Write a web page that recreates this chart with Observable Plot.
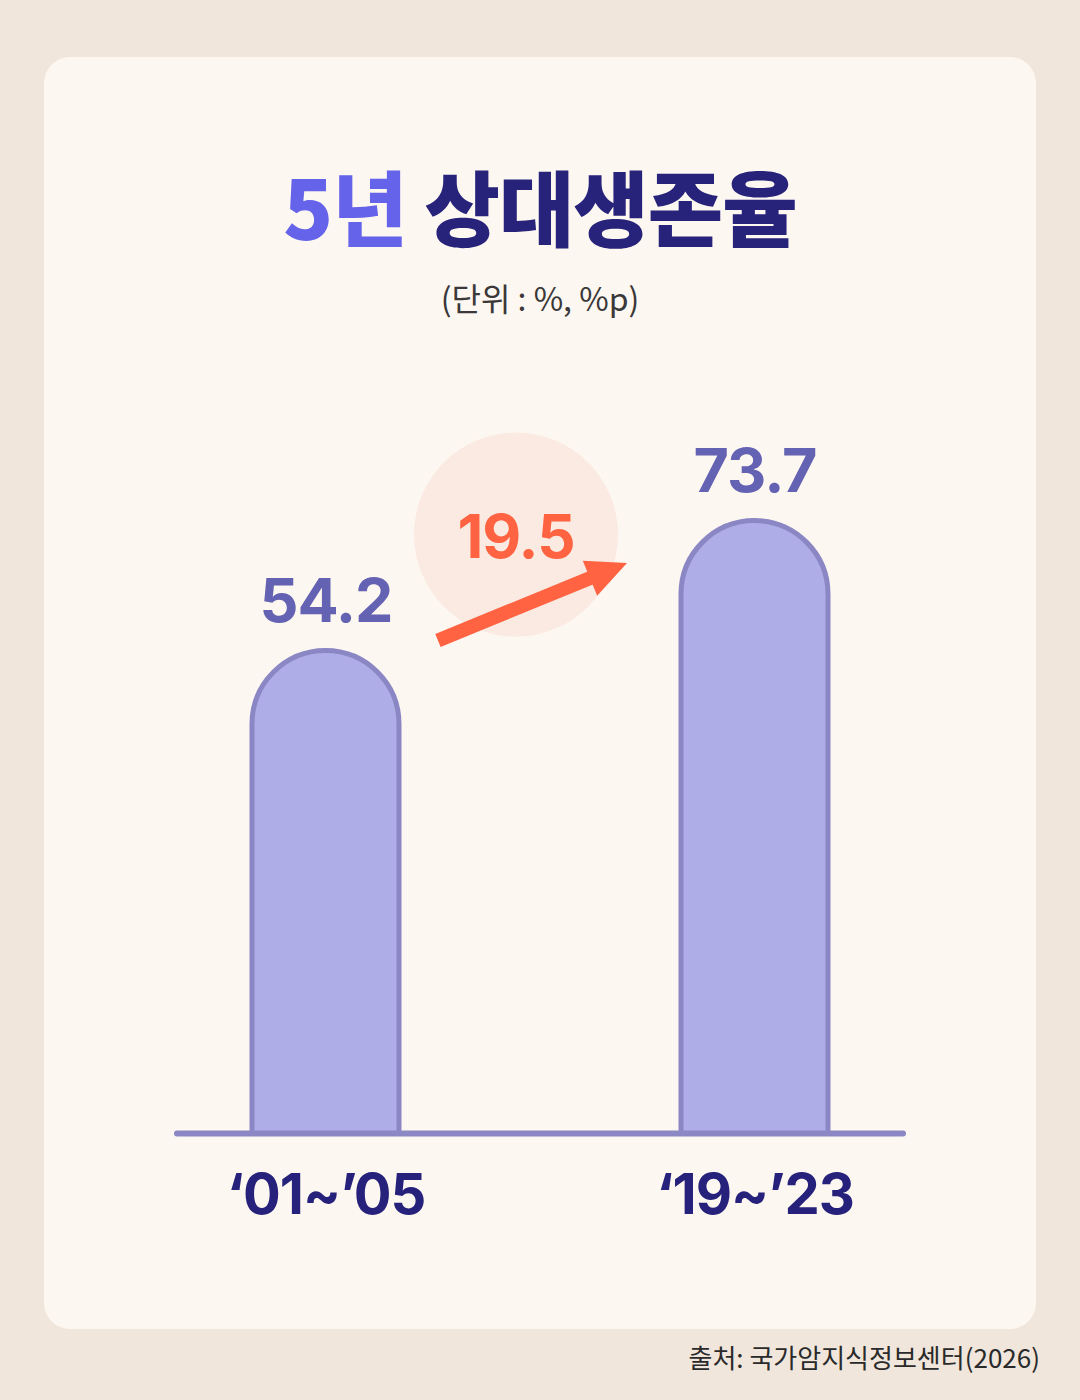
<!DOCTYPE html>
<html><head><meta charset="utf-8">
<script src="https://cdn.jsdelivr.net/npm/d3@7"></script>
<script src="https://cdn.jsdelivr.net/npm/@observablehq/plot@0.6"></script>
<style>
html,body{margin:0;padding:0;background:#F0E6DC;}
#page{position:relative;width:1080px;height:1400px;overflow:hidden;background:#F0E6DC;font-family:"Noto Sans CJK KR",sans-serif;}
#card{position:absolute;left:44px;top:57px;width:992px;height:1272px;border-radius:26px;background:#FDF7F1;}
#title{position:absolute;left:0;width:1080px;top:164px;text-align:center;font-size:82px;font-weight:900;line-height:1;letter-spacing:-1px;color:#27227A;white-space:nowrap;}
#title .hl{color:#6563E9;}
#subtitle{position:absolute;left:0;width:1080px;top:281px;text-align:center;font-size:32px;line-height:1;color:#3A3838;}
#chart{position:absolute;left:0;top:340px;}
#source{position:absolute;right:40px;top:1344px;font-size:26px;line-height:1;color:#2A2A2A;white-space:nowrap;}
#chart text{letter-spacing:-1px;}
</style></head>
<body><div id="page"><div id="card"></div>
<div id="title"><span class="hl">5년</span> 상대생존율</div>
<div id="subtitle">(단위 : %, %p)</div>
<div id="chart"></div>
<div id="source">출처: 국가암지식정보센터(2026)</div>
</div>
<script>
// data
const periods = ["‘01~’05", "‘19~’23"];
const survival = [54.2, 73.7];
const change = 19.5;

const data = periods.map((p, i) => ({period: p, value: survival[i]}));
const yDomain = [-18.2, 100.8];
const annotation = [{from: periods[0], to: periods[1], y1: 48.9, y2: 75.3, change}];

const navy = "#26217B", barFill = "#AEADE8", barStroke = "#8A87C4", valueColor = "#6462B2", orange = "#FF6341", circleFill = "#FBEAE2";

const arrowHead = {
  draw(ctx) {
    ctx.moveTo(0, 0);
    ctx.lineTo(-40, -19);
    ctx.lineTo(-40, 19);
    ctx.closePath();
  }
};

const chart = Plot.plot({
  width: 1080,
  height: 920,
  marginTop: 0,
  marginBottom: 127,
  marginLeft: 0,
  marginRight: 0,
  style: {background: "transparent", overflow: "visible", fontFamily: "Inter, sans-serif"},
  x: {domain: periods, range: [175, 905], paddingInner: 0.6581, paddingOuter: 0.1779, label: null},
  y: {domain: yDomain, axis: null},
  marks: [
    Plot.dot(annotation, {x: "from", y: d => survival[1], dx: 190, dy: 13.5, r: 102, fill: circleFill, stroke: "none"}),
    Plot.text(annotation, {x: "from", y: d => survival[1], dx: 190, dy: 36.5, text: d => d.change.toFixed(1), lineAnchor: "bottom", fontSize: 60, fontWeight: 700, fill: orange}),
    Plot.arrow(annotation, {x1: "from", y1: "y1", x2: "to", y2: "y2", stroke: orange, strokeWidth: 14, headLength: 0, insetStart: 121, insetEnd: 172, strokeLinecap: "butt", strokeLinejoin: "miter"}),
    Plot.dot(annotation, {x: "to", y: "y2", dx: -128, dy: 52.6, rotate: -22.3, symbol: arrowHead, fill: orange, stroke: "none"}),
    Plot.barY(data, {x: "period", y1: -40, y2: "value", rx: 73.5, fill: barFill, stroke: barStroke, strokeWidth: 5, clip: true}),
    Plot.ruleY([yDomain[0]], {stroke: barStroke, strokeWidth: 6, strokeLinecap: "round", insetLeft: 177, insetRight: 177}),
    Plot.text(data, {x: "period", y: "value", text: d => d.value.toFixed(1), lineAnchor: "bottom", dy: -29, fontSize: 61, fontWeight: 700, fill: valueColor}),
    Plot.axisX({tickSize: 0, tickPadding: 41, fontSize: 56, fontWeight: 700, fill: navy, label: null})
  ]
});
document.getElementById("chart").appendChild(chart);
</script>
</body></html>
